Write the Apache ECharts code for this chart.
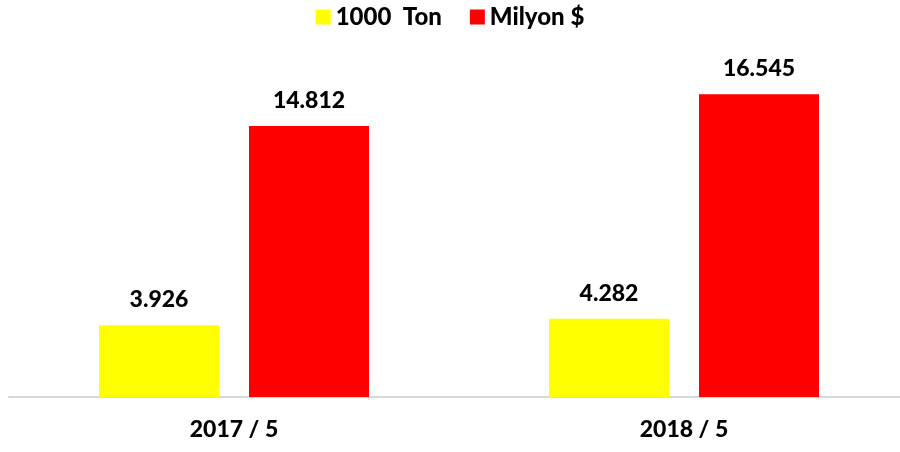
<!DOCTYPE html>
<html>
<head>
<meta charset="utf-8">
<script src="https://cdn.jsdelivr.net/npm/echarts@6/dist/echarts.min.js"></script>
<style>
  html, body { margin: 0; padding: 0; background: #fff; }
  #chart { width: 900px; height: 452px; }
</style>
</head>
<body>
<div id="chart"></div>
<script>
var categories = ['2017 / 5', '2018 / 5'];
var tonValues = [3.926, 4.282];
var dollarValues = [14.812, 16.545];
var seriesNames = ['1000  Ton', 'Milyon $'];

var font = 'Lato, "Open Sans", sans-serif';

var myChart = echarts.init(document.getElementById('chart'));

function fmt(v) {
  return v.toFixed(3);
}

var labelStyle = {
  show: true,
  position: 'top',
  distance: 14,
  fontFamily: font,
  fontWeight: 900,
  fontSize: 23,
  color: '#000',
  formatter: function (p) { return fmt(p.value); }
};

var option = {
  animation: false,
  backgroundColor: '#fff',
  legend: {
    top: 0,
    left: 'center',
    itemWidth: 15,
    itemHeight: 15,
    itemGap: 28,
    icon: 'rect',
    textStyle: { fontFamily: font, fontWeight: 900, fontSize: 24, color: '#000' },
    data: seriesNames
  },
  grid: { left: 9, width: 900, top: 31, bottom: 55, containLabel: false, outerBoundsMode: 'none' },
  xAxis: {
    type: 'category',
    data: categories,
    axisLine: { lineStyle: { color: '#d9d9d9', width: 2 } },
    axisTick: { show: false },
    axisLabel: { margin: 21, fontFamily: font, fontWeight: 900, fontSize: 23, color: '#000' }
  },
  yAxis: {
    type: 'value',
    min: 0,
    max: 20,
    show: false,
    splitLine: { show: false }
  },
  series: [
    {
      name: seriesNames[0],
      type: 'bar',
      data: tonValues,
      barWidth: 120,
      barGap: '25%',
      itemStyle: { color: '#ffff00' },
      label: labelStyle
    },
    {
      name: seriesNames[1],
      type: 'bar',
      data: dollarValues,
      barWidth: 120,
      barGap: '25%',
      itemStyle: { color: '#ff0000' },
      label: labelStyle
    }
  ]
};

myChart.setOption(option);
</script>
</body>
</html>
